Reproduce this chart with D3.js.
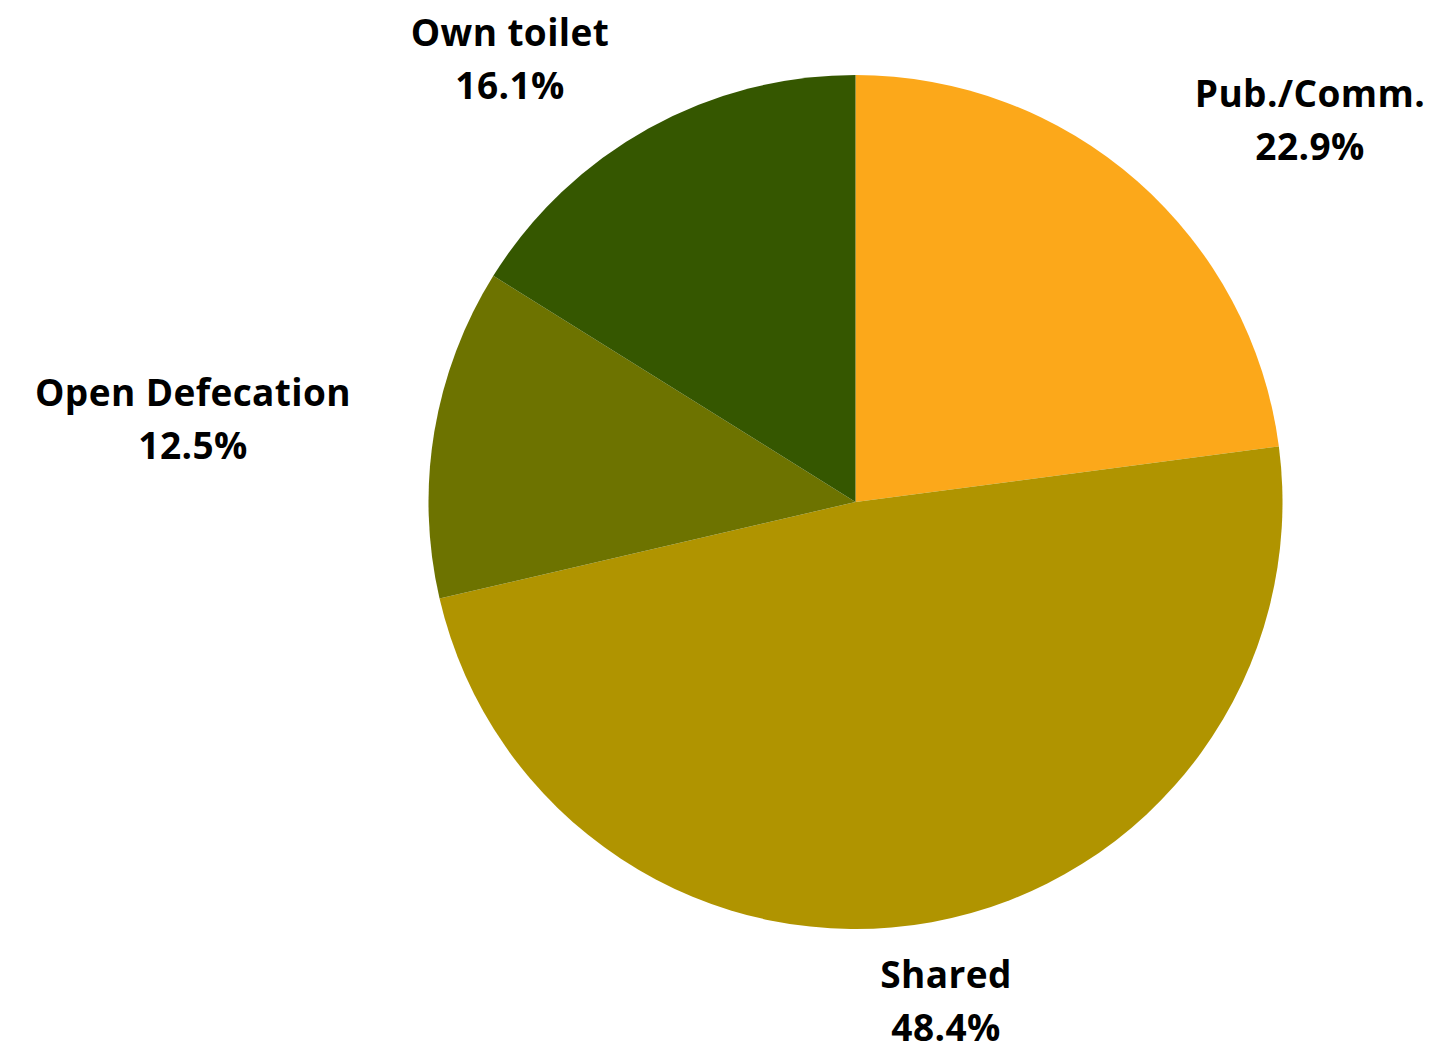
<!DOCTYPE html>
<html>
<head>
<meta charset="utf-8">
<script src="https://cdn.jsdelivr.net/npm/d3@7"></script>
<style>
  html, body { margin: 0; padding: 0; background: #ffffff; }
  svg { display: block; }
  text { font-family: "Open Sans", "DejaVu Sans", sans-serif; font-weight: 700; fill: #000; }
</style>
</head>
<body>
<svg id="chart" width="1449" height="1047"></svg>
<script>
// Sanitation access shares (%)
const categories = ["Pub./Comm.", "Shared", "Open Defecation", "Own toilet"];
const shares = [22.9, 48.4, 12.5, 16.1];
const sliceColors = ["#fca81a", "#b09400", "#6d7300", "#355700"];

// Label anchor (baseline of the first line, centred) per category
const labelAnchors = {
  "Pub./Comm.": [1310, 107],
  "Shared": [946, 988],
  "Open Defecation": [193, 406],
  "Own toilet": [510, 46]
};

const svg = d3.select("#chart");
const cx = 855.5, cy = 502, radius = 427;

const data = categories.map((c, i) => ({ name: c, value: shares[i] }));

const pie = d3.pie().value(d => d.value).sort(null);
const arc = d3.arc().innerRadius(0).outerRadius(radius);
const color = d3.scaleOrdinal().domain(categories).range(sliceColors);

const g = svg.append("g").attr("transform", `translate(${cx},${cy})`);
g.selectAll("path")
  .data(pie(data))
  .join("path")
  .attr("d", arc)
  .attr("fill", d => color(d.data.name));

const labels = svg.append("g").selectAll("text")
  .data(data)
  .join("text")
  .attr("text-anchor", "middle")
  .attr("font-size", 37)
  .attr("letter-spacing", 0.4)
  .attr("transform", d => `translate(${labelAnchors[d.name][0]},${labelAnchors[d.name][1]})`);

labels.append("tspan").attr("x", 0).attr("y", 0).text(d => d.name);
labels.append("tspan").attr("x", 0).attr("y", 53).text(d => d.value.toFixed(1) + "%");
</script>
</body>
</html>
